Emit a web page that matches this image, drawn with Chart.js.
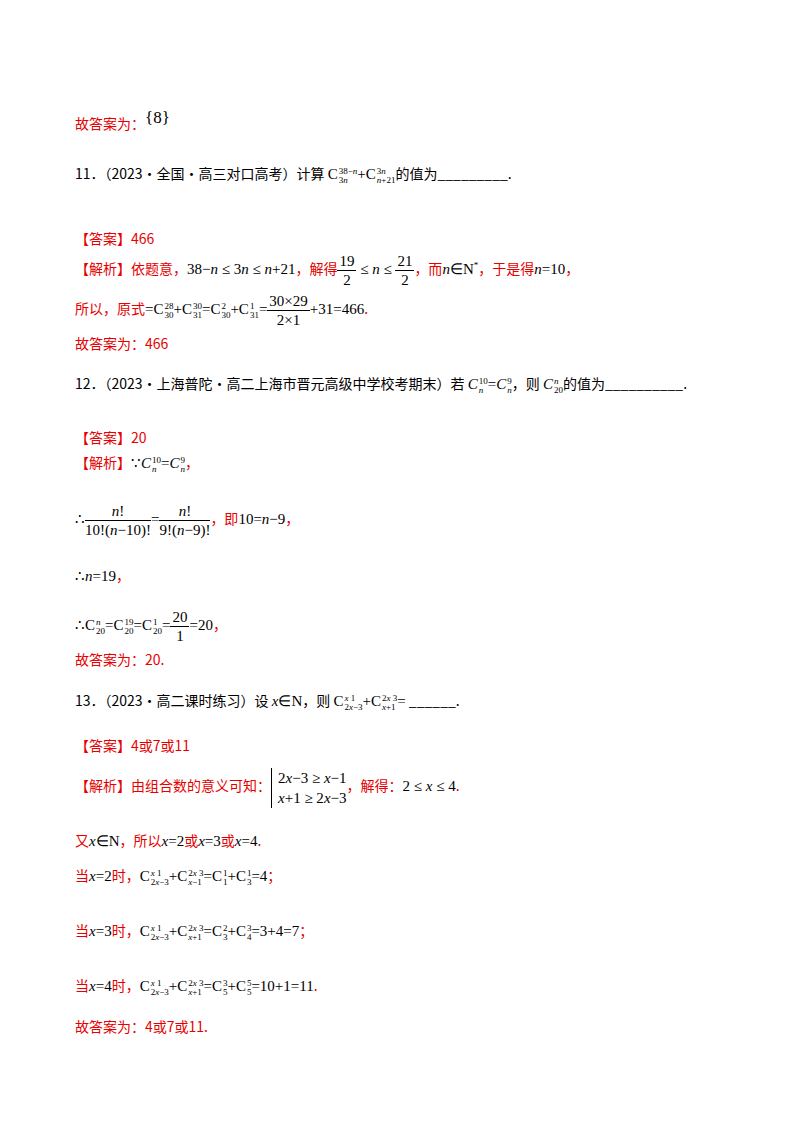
<!DOCTYPE html>
<html><head><meta charset="utf-8">
<script src="https://cdn.jsdelivr.net/npm/chart.js"></script>
<style>
body{margin:0;width:800px;height:1132px;background:#fff;position:relative;font-family:"Noto Sans CJK SC",sans-serif;font-size:14px;color:#000}
.l{position:absolute;left:75px;white-space:nowrap;line-height:20px}
.r{color:#e60000}
.m{font-family:"Liberation Serif",serif;font-size:15px;color:#000}
.i{font-style:italic}
sup,sub{font-size:9px}
.ss{display:inline-flex;flex-direction:column;vertical-align:middle;font-size:9px;line-height:9px;margin-left:1px}
.f{display:inline-flex;flex-direction:column;vertical-align:middle;text-align:center;line-height:18px}
.f span:first-child{border-bottom:1px solid #000;padding:0 2px}
.br{display:inline-block;border-left:1px solid #000;padding-left:6px;line-height:20px;vertical-align:middle}
canvas{position:absolute;left:0;top:0}
</style></head><body>
<canvas id="c" width="10" height="10" style="width:10px;height:10px"></canvas>
<script>
const categories=[];const values=[];
new Chart(document.getElementById('c'),{type:'bar',data:{labels:categories,datasets:[{data:values}]},options:{responsive:false,animation:false,plugins:{legend:{display:false}},scales:{x:{display:false},y:{display:false}}}});
</script>
<div class="l r" style="top:108px">故答案为：<span class="m" style="font-size:17px;vertical-align:6px">{8}</span></div>
<div class="l" style="top:163px">11．（2023·全国·高三对口高考）计算 <span class="m">C<span class="ss"><span>38−<i>n</i></span><span>3<i>n</i></span></span>+C<span class="ss"><span>3<i>n</i></span><span><i>n</i>+21</span></span></span>的值为_________.</div>
<div class="l r" style="top:228px">【答案】466</div>
<div class="l r" style="top:252px">【解析】依题意，<span class="m">38−<i>n</i> ≤ 3<i>n</i> ≤ <i>n</i>+21</span>，解得<span class="m"><span class="f"><span>19</span><span>2</span></span> ≤ <i>n</i> ≤ <span class="f"><span>21</span><span>2</span></span></span>，而<span class="m"><i>n</i>∈N<sup>*</sup></span>，于是得<span class="m"><i>n</i>=10</span>，</div>
<div class="l r" style="top:292px">所以，原式<span class="m">=C<span class="ss"><span>28</span><span>30</span></span>+C<span class="ss"><span>30</span><span>31</span></span>=C<span class="ss"><span>2</span><span>30</span></span>+C<span class="ss"><span>1</span><span>31</span></span>=<span class="f"><span>30×29</span><span>2×1</span></span>+31=466</span>.</div>
<div class="l r" style="top:333px">故答案为：466</div>
<div class="l" style="top:373px">12．（2023·上海普陀·高二上海市晋元高级中学校考期末）若 <span class="m"><i>C</i><span class="ss"><span>10</span><span><i>n</i></span></span>=<i>C</i><span class="ss"><span>9</span><span><i>n</i></span></span></span>，则 <span class="m"><i>C</i><span class="ss"><span><i>n</i></span><span>20</span></span></span>的值为__________.</div>
<div class="l r" style="top:427px">【答案】20</div>
<div class="l r" style="top:452px">【解析】<span class="m">∵<i>C</i><span class="ss"><span>10</span><span><i>n</i></span></span>=<i>C</i><span class="ss"><span>9</span><span><i>n</i></span></span></span>，</div>
<div class="l r" style="top:502px"><span class="m">∴<span class="f"><span><i>n</i>!</span><span>10!(<i>n</i>−10)!</span></span>=<span class="f"><span><i>n</i>!</span><span>9!(<i>n</i>−9)!</span></span></span>，即<span class="m">10=<i>n</i>−9</span>，</div>
<div class="l r" style="top:565px"><span class="m">∴<i>n</i>=19</span>，</div>
<div class="l r" style="top:608px"><span class="m">∴C<span class="ss"><span><i>n</i></span><span>20</span></span>=C<span class="ss"><span>19</span><span>20</span></span>=C<span class="ss"><span>1</span><span>20</span></span>=<span class="f"><span>20</span><span>1</span></span>=20</span>，</div>
<div class="l r" style="top:649px">故答案为：20.</div>
<div class="l" style="top:690px">13．（2023·高二课时练习）设 <span class="m"><i>x</i>∈N</span>，则 <span class="m">C<span class="ss"><span><i>x</i> 1</span><span>2<i>x</i>−3</span></span>+C<span class="ss"><span>2<i>x</i> 3</span><span><i>x</i>+1</span></span>=</span> ______.</div>
<div class="l r" style="top:735px">【答案】4或7或11</div>
<div class="l r" style="top:768px">【解析】由组合数的意义可知：<span class="m"><span class="br">2<i>x</i>−3 ≥ <i>x</i>−1<br><i>x</i>+1 ≥ 2<i>x</i>−3</span></span>，解得：<span class="m">2 ≤ <i>x</i> ≤ 4</span>.</div>
<div class="l r" style="top:830px">又<span class="m"><i>x</i>∈N</span>，所以<span class="m"><i>x</i>=2</span>或<span class="m"><i>x</i>=3</span>或<span class="m"><i>x</i>=4</span>.</div>
<div class="l r" style="top:865px">当<span class="m"><i>x</i>=2</span>时，<span class="m">C<span class="ss"><span><i>x</i> 1</span><span>2<i>x</i>−3</span></span>+C<span class="ss"><span>2<i>x</i> 3</span><span><i>x</i>−1</span></span>=C<span class="ss"><span>1</span><span>1</span></span>+C<span class="ss"><span>1</span><span>3</span></span>=4</span>；</div>
<div class="l r" style="top:920px">当<span class="m"><i>x</i>=3</span>时，<span class="m">C<span class="ss"><span><i>x</i> 1</span><span>2<i>x</i>−3</span></span>+C<span class="ss"><span>2<i>x</i> 3</span><span><i>x</i>+1</span></span>=C<span class="ss"><span>2</span><span>3</span></span>+C<span class="ss"><span>3</span><span>4</span></span>=3+4=7</span>；</div>
<div class="l r" style="top:975px">当<span class="m"><i>x</i>=4</span>时，<span class="m">C<span class="ss"><span><i>x</i> 1</span><span>2<i>x</i>−3</span></span>+C<span class="ss"><span>2<i>x</i> 3</span><span><i>x</i>+1</span></span>=C<span class="ss"><span>3</span><span>5</span></span>+C<span class="ss"><span>5</span><span>5</span></span>=10+1=11</span>.</div>
<div class="l r" style="top:1016px">故答案为：4或7或11.</div>
</body></html>
